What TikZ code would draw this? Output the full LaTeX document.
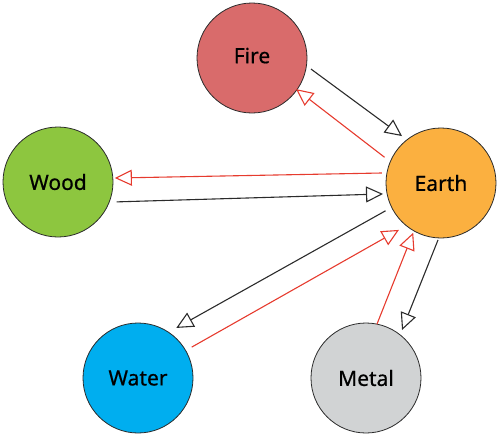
\documentclass[tikz,border=0pt]{standalone}
\usepackage{fontspec}
\setmainfont{Noto Sans}
\newfontfamily\labelfont[FakeBold=0.6]{Noto Sans}
\usetikzlibrary{arrows.meta,calc}
\definecolor{firec}{HTML}{D96B6B}
\definecolor{woodc}{HTML}{8DC63F}
\definecolor{earthc}{HTML}{FBB040}
\definecolor{waterc}{HTML}{00AEEF}
\definecolor{metalc}{HTML}{D1D3D4}
\definecolor{redline}{HTML}{E63B2E}
\definecolor{darkline}{HTML}{2B2B2B}
\tikzset{
  elem/.style={circle, draw=darkline, line width=0.8pt, minimum size=110pt, inner sep=0pt,
    font=\labelfont\fontsize{21}{25}\selectfont},
  gen/.style={draw=darkline, line width=1.1pt, -{Triangle[open, length=17pt, width=16pt, line width=1.1pt]}},
  ctl/.style={draw=redline, line width=1.1pt, -{Triangle[open, length=17pt, width=16pt, line width=1.1pt]}}
}
\begin{document}
\begin{tikzpicture}[x=1pt,y=-1pt]
\useasboundingbox (0,0) rectangle (500,437);
\node[elem, fill=firec] (fire) at (252,58) {\raisebox{5pt}{Fire}};
\node[elem, fill=earthc] (earth) at (441,183) {Earth};
\node[elem, fill=woodc] (wood) at (58,182) {Wood};
\node[elem, fill=waterc] (water) at (138,378) {Water};
\node[elem, fill=metalc] (metal) at (366,378) {Metal};
% black (generating)
\draw[gen] ($(fire)+(10.6:60)$) -- ($(earth)+(-129.7:61)$);
\draw[gen] ($(wood)+(18.7:62)$) -- ($(earth)+(-190.7:59)$);
\draw[gen] ($(earth)+(-206.6:62)$) -- ($(water)+(-52.6:63)$);
\draw[gen] ($(earth)+(93:57)$) -- ($(metal)+(-53.1:60)$);
% red
\draw[ctl] ($(earth)+(-155.5:62)$) -- ($(fire)+(35.2:54)$);
\draw[ctl] ($(earth)+(-170.4:60)$) -- ($(wood)+(-4:57)$);
\draw[ctl] ($(water)+(-29.9:62)$) -- ($(earth)+(131.9:63)$);
\draw[ctl] ($(metal)+(-78.5:55)$) -- ($(earth)+(119.2:57)$);
\end{tikzpicture}
\end{document}
